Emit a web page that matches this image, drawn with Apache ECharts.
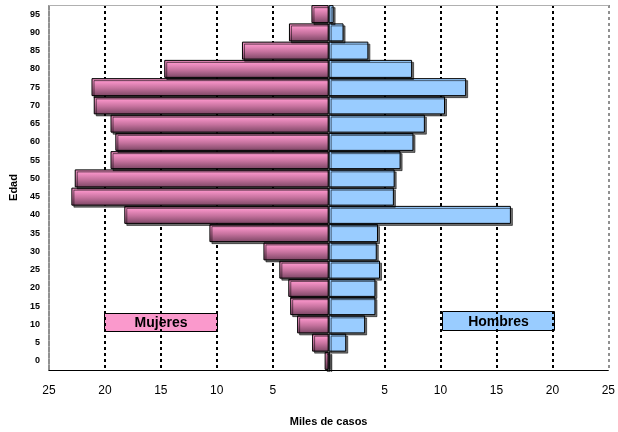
<!DOCTYPE html>
<html>
<head>
<meta charset="utf-8">
<script src="https://cdn.jsdelivr.net/npm/echarts@6/dist/echarts.min.js"></script>
<style>html,body{margin:0;padding:0;background:#fff}#c{width:618px;height:432px}</style>
</head>
<body>
<div id="c"></div>
<script>
var ageGroups = ['0','5','10','15','20','25','30','35','40','45','50','55','60','65','70','75','80','85','90','95'];
var mujeres = [0.36,1.48,2.82,3.44,3.61,4.41,5.83,10.66,18.27,23.0,22.7,19.5,19.07,19.5,21.0,21.2,14.7,7.75,3.55,1.54];
var hombres = [0.15,1.57,3.26,4.18,4.18,4.59,4.3,4.41,16.29,5.83,5.9,6.43,7.58,8.6,10.4,12.29,7.46,3.55,1.33,0.44];
var xTicks = [-25,-20,-15,-10,-5,0,5,10,15,20,25];

var FONT = 'Liberation Sans, Arial, sans-serif';
var chart = echarts.init(document.getElementById('c'));
var gridColors = xTicks.map(function(v){ return Math.abs(v)===25 ? '#909090' : (v===0 ? 'rgba(0,0,0,0)' : '#000'); });

chart.setOption({
  animation: false,
  backgroundColor: '#fff',
  grid: {left: 47, right: 8, top: 5, bottom: 58},
  xAxis: [{
    type: 'value', min: -25, max: 25, interval: 5,
    axisLine: {show: true, onZero: false, lineStyle: {color: '#000', width: 1}},
    axisTick: {show: false},
    axisLabel: {
      fontFamily: FONT, fontSize: 12, color: '#000', margin: 15,
      formatter: function(v){ return v === 0 ? '' : String(Math.abs(v)); }
    },
    splitLine: {show: true, showMinLine: true, showMaxLine: true, lineStyle: {color: gridColors, type: [3, 3], width: 2}},
    name: 'Miles de casos', nameLocation: 'middle', nameGap: 46,
    nameTextStyle: {fontFamily: FONT, fontSize: 11, fontWeight: 'bold', color: '#000'}
  }, {
    type: 'value', min: -25, max: 25, interval: 5, position: 'top',
    axisLine: {show: true, lineStyle: {color: '#b0b0b0', width: 1}},
    axisTick: {show: false}, axisLabel: {show: false}, splitLine: {show: false}
  }],
  yAxis: {
    type: 'category', data: ageGroups,
    axisLine: {show: true, onZero: false, lineStyle: {color: '#909090', width: 2, type: [3, 3]}},
    axisTick: {show: false},
    axisLabel: {fontFamily: FONT, fontSize: 9, fontWeight: 'bold', color: '#000', margin: 9},
    name: 'Edad', nameLocation: 'middle', nameGap: 30, nameRotate: 90,
    nameTextStyle: {fontFamily: FONT, fontSize: 11, fontWeight: 'bold', color: '#000'}
  },
  series: [{
    name: 'Mujeres', type: 'bar', stack: 'p', barWidth: 18,
    data: mujeres.map(function(v){ return -v; }),
    itemStyle: {
      color: new echarts.graphic.LinearGradient(0, 0, 0, 1, [
        {offset: 0, color: '#d47fab'}, {offset: 0.2, color: '#f592c6'},
        {offset: 0.55, color: '#c6729e'}, {offset: 1, color: '#7a4563'}
      ]),
      borderColor: '#000', borderWidth: 1,
      shadowColor: 'rgba(0,0,0,0.55)', shadowOffsetX: 2, shadowOffsetY: 2, shadowBlur: 0
    }
  }, {
    name: 'Hombres', type: 'bar', stack: 'p', barWidth: 18,
    data: hombres,
    itemStyle: {
      color: '#99ccff', borderColor: '#000', borderWidth: 1,
      shadowColor: 'rgba(0,0,0,0.55)', shadowOffsetX: 2, shadowOffsetY: 2, shadowBlur: 0
    }
  }],
  graphic: [{
    type: 'group', left: 104, top: 313, children: [
      {type: 'rect', shape: {x: 0, y: 0, width: 113, height: 18}, style: {fill: '#fa99cc', stroke: '#000', lineWidth: 1}},
      {type: 'text', x: 56.5, y: 10, style: {text: 'Mujeres', font: 'bold 14px ' + FONT, fill: '#000', align: 'center', verticalAlign: 'middle'}}
    ]
  }, {
    type: 'group', left: 442, top: 311, children: [
      {type: 'rect', shape: {x: 0, y: 0, width: 112, height: 19}, style: {fill: '#99ccff', stroke: '#000', lineWidth: 1}},
      {type: 'text', x: 56, y: 10.5, style: {text: 'Hombres', font: 'bold 14px ' + FONT, fill: '#000', align: 'center', verticalAlign: 'middle'}}
    ]
  }]
});
</script>
</body>
</html>
